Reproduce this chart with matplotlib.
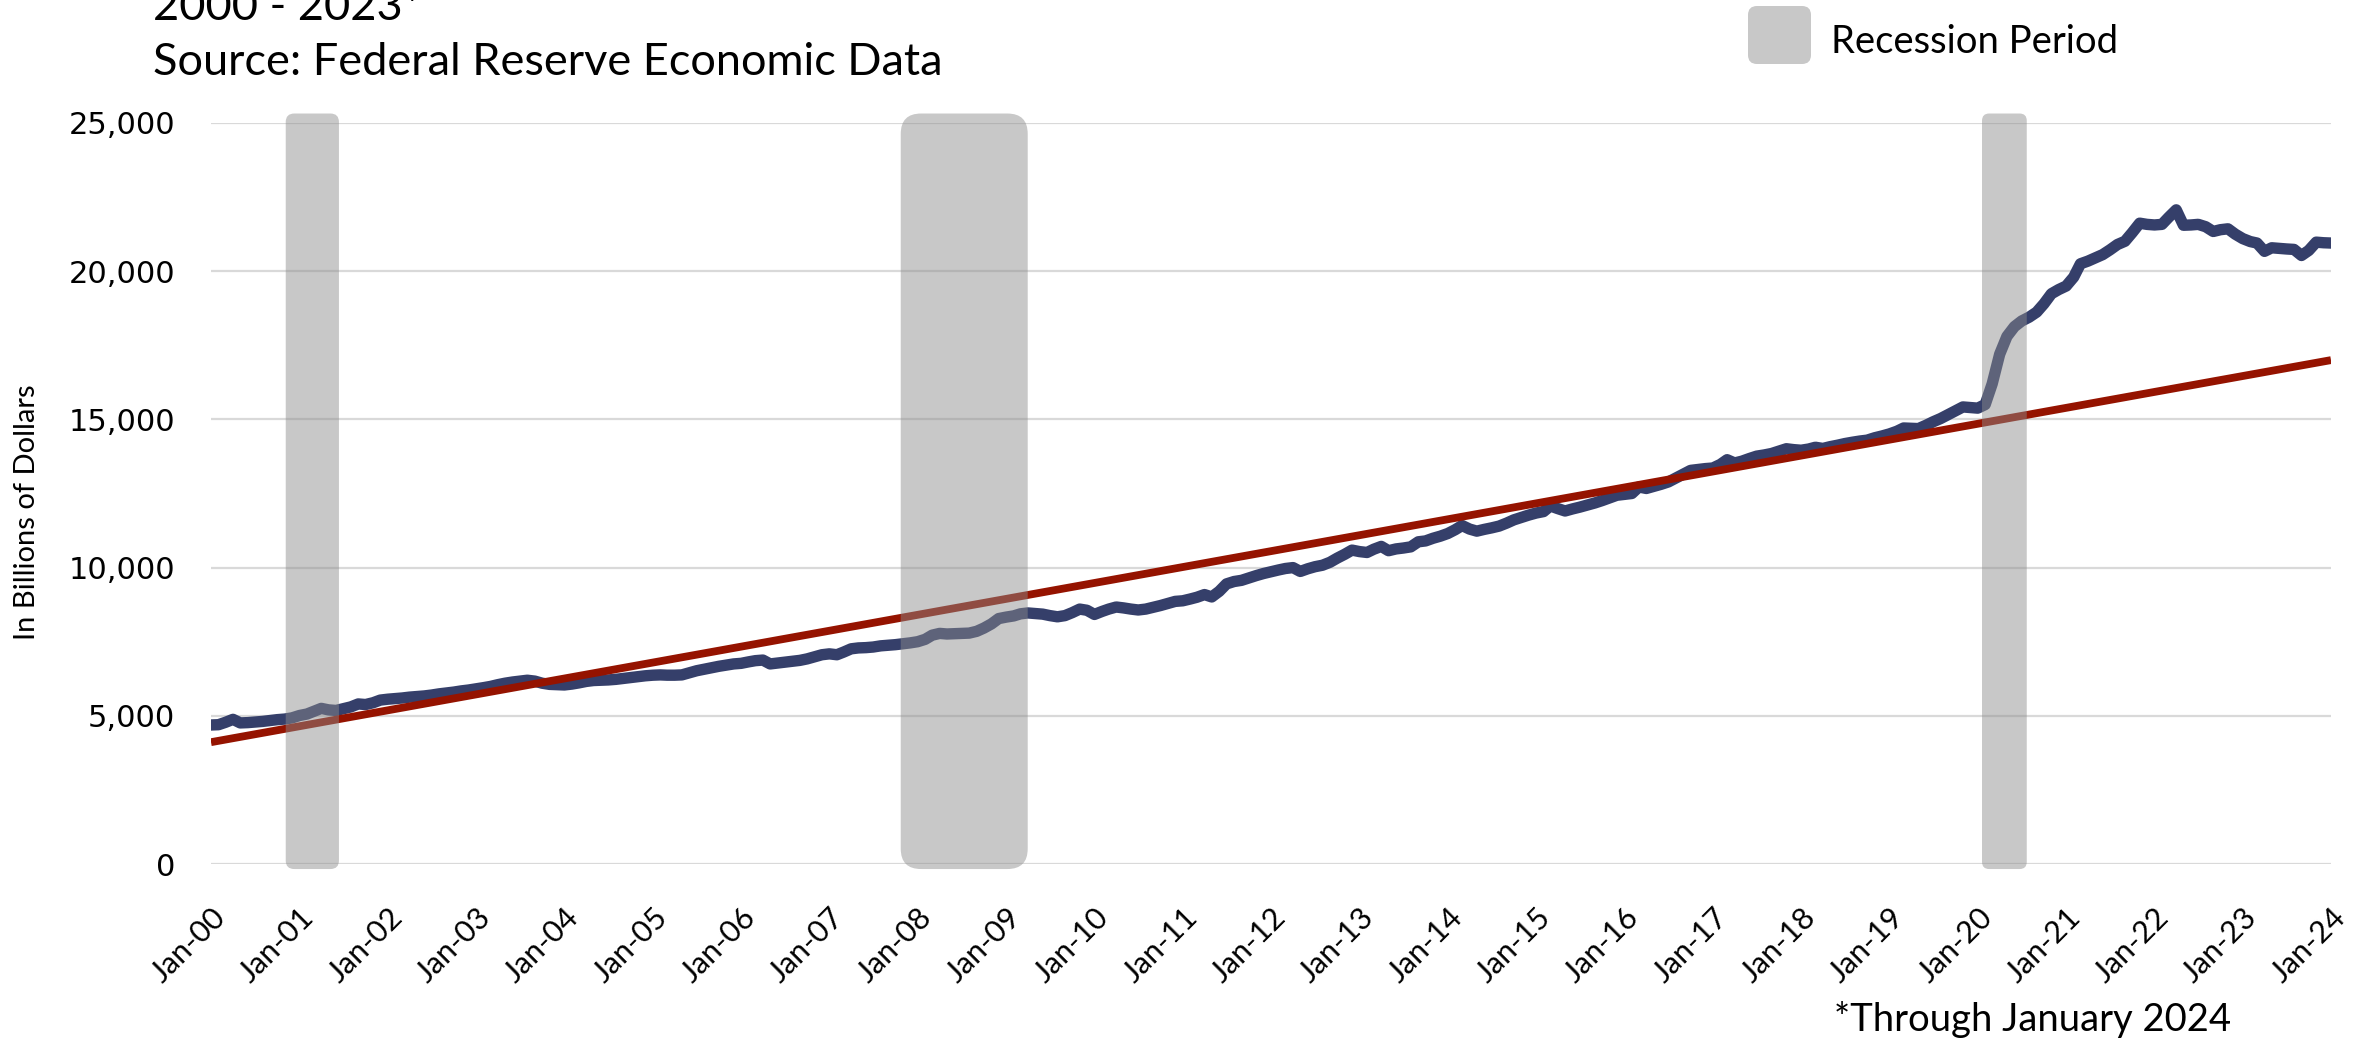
import pandas as pd
import matplotlib
matplotlib.use('Agg')
import matplotlib.pyplot as plt
import matplotlib.dates as mdates
from matplotlib.patches import FancyBboxPatch
from matplotlib.transforms import IdentityTransform
from matplotlib.ticker import FuncFormatter

plt.rcParams['font.family'] = 'Lato'

# M2 money stock, billions of dollars, monthly from Jan 2000 through Jan 2024
m2 = [
    4690, 4700, 4780, 4880, 4760, 4770, 4790, 4810, 4840, 4870, 4890, 4930,  # 2000
    5010, 5060, 5150, 5250, 5200, 5180, 5240, 5300, 5400, 5380, 5440, 5530,  # 2001
    5560, 5580, 5600, 5630, 5650, 5670, 5700, 5740, 5770, 5800, 5840, 5870,  # 2002
    5910, 5950, 5990, 6050, 6100, 6140, 6170, 6200, 6170, 6100, 6060, 6050,  # 2003
    6040, 6070, 6110, 6160, 6190, 6200, 6210, 6230, 6260, 6290, 6320, 6350,  # 2004
    6370, 6380, 6370, 6370, 6380, 6450, 6520, 6570, 6620, 6670, 6710, 6750,  # 2005
    6770, 6820, 6860, 6880, 6750, 6780, 6810, 6840, 6870, 6920, 6990, 7060,  # 2006
    7090, 7060, 7150, 7260, 7290, 7300, 7320, 7360, 7380, 7400, 7430, 7460,  # 2007
    7500, 7580, 7720, 7780, 7760, 7770, 7780, 7790, 7850, 7960, 8100, 8280,  # 2008
    8330, 8370, 8440, 8470, 8450, 8430, 8380, 8340, 8380, 8480, 8600, 8560,  # 2009
    8420, 8520, 8600, 8670, 8640, 8600, 8570, 8600, 8660, 8720, 8790, 8860,  # 2010
    8880, 8940, 9000, 9090, 9010, 9200, 9450, 9530, 9570, 9650, 9730, 9800,  # 2011
    9860, 9920, 9970, 10000, 9870, 9960, 10030, 10080, 10180, 10320, 10450, 10590,  # 2012
    10540, 10510, 10620, 10715, 10570, 10630, 10660, 10700, 10870, 10900, 10990, 11060,  # 2013
    11150, 11280, 11420, 11300, 11230, 11290, 11340, 11400, 11500, 11610, 11690, 11770,  # 2014
    11840, 11890, 12080, 11990, 11910, 11980, 12040, 12110, 12180, 12260, 12350, 12440,  # 2015
    12470, 12500, 12720, 12670, 12740, 12810, 12890, 13020, 13150, 13280, 13310, 13340,  # 2016
    13360, 13480, 13640, 13530, 13590, 13680, 13760, 13800, 13850, 13930, 14010, 13980,  # 2017
    13960, 14000, 14060, 14020, 14080, 14130, 14185, 14230, 14270, 14300, 14380, 14440,  # 2018
    14510, 14600, 14710, 14700, 14690, 14800, 14920, 15030, 15160, 15290, 15420, 15400,  # 2019
    15380, 15500, 16200, 17200, 17800, 18130, 18320, 18450, 18620, 18900, 19240, 19380,  # 2020
    19500, 19800, 20250, 20340, 20450, 20560, 20720, 20900, 21010, 21300, 21620, 21580,  # 2021
    21560, 21580, 21820, 22070, 21550, 21560, 21580, 21500, 21340, 21400, 21430, 21250,  # 2022
    21100, 21000, 20950, 20670, 20790, 20770, 20750, 20735, 20530, 20700, 20980, 20960,  # 2023
    20950,                                                                              # 2024
]
dates = pd.date_range('2000-01-01', periods=len(m2), freq='MS')

# straight trend line between its two ends
trend_dates = pd.to_datetime(['2000-01-01', '2024-01-01'])
trend_values = [4110, 17000]

# shaded recession periods (start, end)
recessions = [
    ('2000-11-05', '2001-06-13'),
    ('2007-10-23', '2009-03-31'),
    ('2020-01-19', '2020-07-22'),
]

tick_years = list(range(2000, 2025))
tick_labels = ['Jan-%02d' % (y % 100) for y in tick_years]
y_ticks = [0, 5000, 10000, 15000, 20000, 25000]

W, H = 2361, 1040
fig = plt.figure(figsize=(W / 100, H / 100), dpi=100)
ax = fig.add_axes([211 / W, 1 - 864 / H, 2120 / W, 741 / H])

ax.plot(dates, m2, color='#353f6a', lw=8.2, solid_capstyle='round',
        solid_joinstyle='round', zorder=2)
ax.plot(trend_dates, trend_values, color='#951300', lw=5.6,
        solid_capstyle='butt', zorder=2.5)

ax.set_xlim(pd.Timestamp('2000-01-01'), pd.Timestamp('2024-01-01'))
ax.set_ylim(0, 25000)

# rounded bands: make corners circular in screen space
p0 = ax.transData.transform((0, 0))
p1 = ax.transData.transform((1, 1))
aspect = (p1[0] - p0[0]) / (p1[1] - p0[1])
for start, end in recessions:
    x0 = mdates.date2num(pd.Timestamp(start))
    x1 = mdates.date2num(pd.Timestamp(end))
    w = x1 - x0
    band = FancyBboxPatch((x0, -170), w, 25490,
                          boxstyle='round,pad=0,rounding_size=%f' % (0.16 * w),
                          mutation_aspect=aspect, fc='#8c8c8c', ec='none',
                          alpha=0.48, zorder=3, clip_on=False)
    ax.add_patch(band)

ax.set_yticks(y_ticks)
ax.yaxis.set_major_formatter(FuncFormatter(lambda v, _: f'{v:,.0f}'))
for lab in ax.get_yticklabels():
    lab.set_fontfamily('DejaVu Sans')
    lab.set_fontsize(22)
ax.tick_params(axis='y', length=0, pad=26)

ax.set_xticks([pd.Timestamp(f'{y}-01-01') for y in tick_years])
ax.set_xticklabels(tick_labels, rotation=45, ha='right', va='top',
                   rotation_mode='anchor', fontsize=22)
ax.tick_params(axis='x', length=0, pad=28)

ax.yaxis.grid(True, color='#d9d9d9', lw=1.6)
ax.set_axisbelow(True)
for s in ax.spines.values():
    s.set_visible(False)

fig.text(27 / W, 1 - 512 / H, 'In Billions of Dollars', rotation=90,
         ha='center', va='center', fontsize=21)

fig.text(153 / W, 1 - 20 / H, '2000 - 2023*', va='baseline', fontsize=32.5)
fig.text(153 / W, 1 - 75 / H, 'Source: Federal Reserve Economic Data',
         va='baseline', fontsize=32.5)

# legend swatch and label
swatch = FancyBboxPatch((1748, H - 64), 63, 58,
                        boxstyle='round,pad=0,rounding_size=9',
                        transform=IdentityTransform(), fc='#8c8c8c',
                        ec='none', alpha=0.48)
fig.patches.append(swatch)
fig.text(1831 / W, 1 - 53 / H, 'Recession Period', va='baseline', fontsize=27.5)

fig.text(1834 / W, 1 - 1031 / H, '*Through January 2024', va='baseline',
         fontsize=27.5)

fig.savefig('out.png', dpi=100)
